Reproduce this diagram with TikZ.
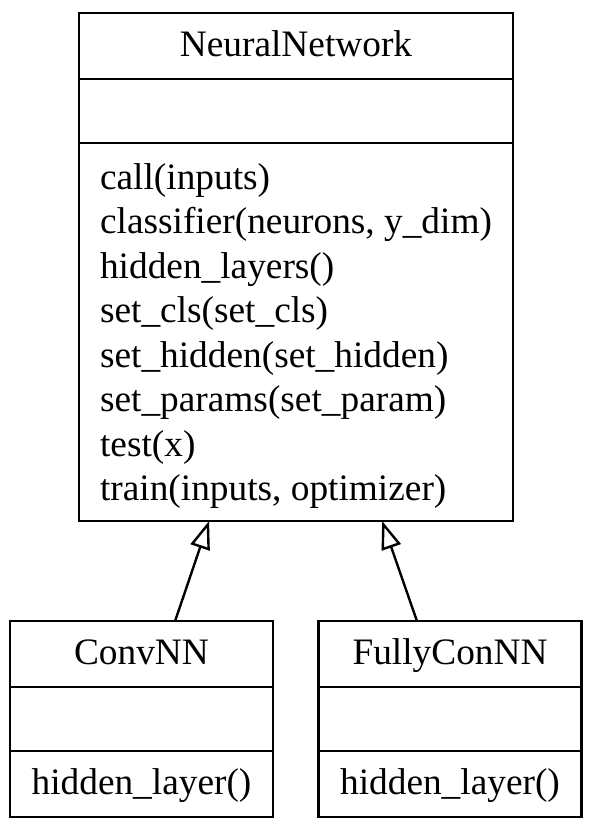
\documentclass[tikz,border=0pt]{standalone}
\usepackage{fontspec}
\setmainfont{Liberation Serif}
\usetikzlibrary{arrows.meta}

\tikzset{
  classbox/.style={draw, line width=0.9pt, inner sep=0pt, outer sep=0pt,
    font=\fontsize{14}{16.7}\selectfont},
  basebox/.style={classbox, minimum width=162.75pt},
  subbox/.style={classbox, minimum width=98.5pt},
  oneline/.style={text height=10pt, text depth=2pt},
  inherit/.style={line width=0.9pt, -{Triangle[open, length=10.5pt, width=7.5pt]}}
}

\begin{document}
\begin{tikzpicture}[x=0.375pt, y=-0.375pt]
    % Page frame
    \useasboundingbox (0,0) rectangle (592,830);
    % Base class
    \node[basebox, oneline, minimum height=24.75pt] (nn) at (296,46) {NeuralNetwork};
    \node[basebox, minimum height=24pt] (nnattr) at (296,111) {};
    \node[basebox, minimum height=141.75pt, align=left] (nnops) at (296,332)
        {\rule{0pt}{12.7pt}call(inputs)\\
         classifier(neurons, y\_dim)\\
         hidden\_layers()\\
         set\_cls(set\_cls)\\
         set\_hidden(set\_hidden)\\
         set\_params(set\_param)\\
         test(x)\\
         train(inputs, optimizer)};
    % Subclasses
    \foreach \cname/\ctitle/\cx in {conv/ConvNN/141.5, fully/FullyConNN/450} {
        \node[subbox, oneline, minimum height=24.75pt] (\cname) at (\cx,654) {\ctitle};
        \node[subbox, minimum height=24pt] (\cname attr) at (\cx,719) {};
        \node[subbox, oneline, minimum height=24.75pt] (\cname ops) at (\cx,784) {hidden\_layer()};
    }
    % Inheritance
    \draw[inherit] ([xshift=12.6pt]conv.north) -- ([xshift=-32.6pt]nnops.south);
    \draw[inherit] ([xshift=-12.4pt]fully.north) -- ([xshift=32.3pt]nnops.south);
\end{tikzpicture}
\end{document}
